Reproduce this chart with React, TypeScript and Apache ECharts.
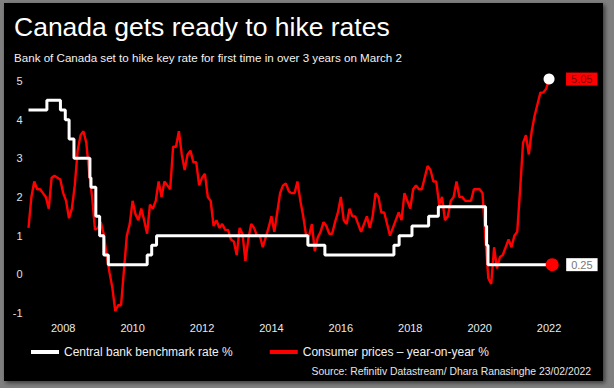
import React, { useEffect, useRef } from "react";
import * as echarts from "echarts";

const TITLE = "Canada gets ready to hike rates";
const SUBTITLE = "Bank of Canada set to hike key rate for first time in over 3 years on March 2";
const SOURCE = "Source: Refinitiv Datastream/ Dhara Ranasinghe 23/02/2022";
const RATE_NAME = "Central bank benchmark rate %";
const CPI_NAME = "Consumer prices \u2013 year-on-year %";

const START_YEAR = 2007;
// Monthly CPI y/y %, Jan 2007 .. Jan 2022
const cpi2007 = [1.2, 2.0, 2.4, 2.2, 2.2, 2.1, 2.0, 1.7, 2.5, 2.55, 2.5, 2.45];
const cpi2008 = [2.1, 1.9, 1.45, 1.7, 2.3, 3.2, 3.6, 3.7, 3.4, 2.6, 2.0, 1.15];
const cpi2009 = [1.2, 1.35, 1.05, 0.5, 0.05, -0.35, -0.95, -0.8, -0.8, 0.1, 1.0, 1.3];
const cpi2010 = [1.9, 1.55, 1.4, 1.7, 1.4, 1.05, 1.8, 1.7, 1.9, 2.4, 2.0, 2.4];
const cpi2011 = [2.3, 2.2, 3.3, 3.3, 3.7, 3.1, 2.7, 3.1, 3.2, 2.9, 2.9, 2.3];
const cpi2012 = [2.5, 2.6, 2.0, 1.9, 1.25, 1.4, 1.2, 1.3, 1.15, 1.15, 0.9, 0.85];
const cpi2013 = [0.5, 1.2, 1.05, 0.35, 0.9, 1.3, 1.2, 1.0, 1.0, 0.7, 0.95, 1.2];
const cpi2014 = [1.5, 1.1, 1.6, 2.1, 2.3, 2.35, 2.15, 2.1, 2.1, 2.4, 1.9, 1.5];
const cpi2015 = [1.0, 1.0, 1.3, 0.6, 0.95, 1.1, 1.35, 1.25, 1.05, 1.05, 1.35, 1.6];
const cpi2016 = [2.0, 1.4, 1.3, 1.7, 1.5, 1.5, 1.3, 1.1, 1.3, 1.5, 1.2, 1.5];
const cpi2017 = [2.1, 2.0, 1.6, 1.6, 1.3, 1.0, 1.2, 1.4, 1.6, 1.4, 2.1, 1.9];
const cpi2018 = [1.7, 2.2, 2.3, 2.2, 2.2, 2.5, 2.8, 2.7, 2.4, 2.4, 1.8, 2.0];
const cpi2019 = [1.4, 1.5, 1.9, 2.0, 2.4, 2.0, 2.0, 1.9, 1.9, 1.9, 2.2, 2.2];
const cpi2020 = [2.2, 2.1, 0.9, -0.1, -0.25, 0.7, 0.15, 0.45, 0.5, 0.7, 0.9, 0.7];
const cpi2021 = [1.0, 1.1, 2.2, 3.4, 3.6, 3.1, 3.7, 4.1, 4.4, 4.7, 4.7, 4.8];
const cpi2022 = [5.05];

const cpiMonthly = [
  ...cpi2007, ...cpi2008, ...cpi2009, ...cpi2010, ...cpi2011, ...cpi2012,
  ...cpi2013, ...cpi2014, ...cpi2015, ...cpi2016, ...cpi2017, ...cpi2018,
  ...cpi2019, ...cpi2020, ...cpi2021, ...cpi2022,
];

// Bank of Canada overnight rate: [decimal year of change, new rate]
const rateDates = [
  2007.0, 2007.53, 2007.92, 2008.06, 2008.17, 2008.31, 2008.77, 2008.8, 2008.94,
  2009.05, 2009.17, 2009.3, 2010.42, 2010.55, 2010.69, 2015.05, 2015.54, 2017.53,
  2017.68, 2018.05, 2018.53, 2018.81, 2020.17, 2020.2, 2020.24, 2022.09,
];
const rateValues = [
  4.25, 4.5, 4.25, 4.0, 3.5, 3.0, 2.5, 2.25, 1.5,
  1.0, 0.5, 0.25, 0.5, 0.75, 1.0, 0.75, 0.5, 0.75,
  1.0, 1.25, 1.5, 1.75, 1.25, 0.75, 0.25, 0.25,
];

const yTicks = { min: -1, max: 5, interval: 1 };
const xRange = { min: 2007, max: 2022.2 };

const SANS = "'Liberation Sans', Arial, sans-serif";

export default function App() {
  const ref = useRef<HTMLDivElement>(null);

  useEffect(() => {
    if (!ref.current) return;
    const chart = echarts.init(ref.current, undefined, { renderer: "svg" });

    const cpiData = cpiMonthly.map((v, i) => [START_YEAR + i / 12, v]);
    const rateData = rateDates.map((d, i) => [d, rateValues[i]]);
    const cpiLast = cpiData[cpiData.length - 1];
    const rateLast = rateData[rateData.length - 1];

    chart.setOption({
      animation: false,
      backgroundColor: "#7f7f7f",
      graphic: [
        {
          type: "rect",
          z: 0,
          silent: true,
          shape: { x: 4, y: 3, width: 599, height: 378 },
          style: {
            fill: "#000",
            shadowBlur: 4,
            shadowOffsetX: 2,
            shadowOffsetY: 2,
            shadowColor: "rgba(0,0,0,0.55)",
          },
        },
      ],
      title: [
        {
          text: TITLE,
          left: 14,
          top: 13,
          padding: 0,
          textStyle: { color: "#fff", fontSize: 26.5, fontWeight: "normal", fontFamily: SANS },
        },
        {
          text: SUBTITLE,
          left: 14,
          top: 51,
          padding: 0,
          textStyle: { color: "#f2f2f2", fontSize: 11.6, fontWeight: "normal", fontFamily: SANS },
        },
        {
          text: SOURCE,
          right: 23,
          top: 366,
          padding: 0,
          textStyle: { color: "#e6e6e6", fontSize: 10.4, fontWeight: "normal", fontFamily: SANS },
        },
      ],
      legend: {
        data: [RATE_NAME, CPI_NAME],
        left: 31,
        top: 346,
        padding: 0,
        icon: "rect",
        itemWidth: 28,
        itemHeight: 4,
        itemGap: 37,
        textStyle: { color: "#f0f0f0", fontSize: 12, fontFamily: SANS },
      },
      grid: { left: 28.5, right: 58, top: 81, bottom: 75, containLabel: false },
      xAxis: {
        type: "value",
        min: xRange.min,
        max: xRange.max,
        interval: 1,
        axisLine: { show: false },
        axisTick: { show: false },
        splitLine: { show: false },
        axisLabel: {
          color: "#eaeaea",
          fontSize: 11,
          fontFamily: SANS,
          margin: 9,
          showMaxLabel: false,
          formatter: (v: number) => {
            const r = Math.round(v);
            return Math.abs(v - r) < 1e-6 && r % 2 === 0 ? String(r) : "";
          },
        },
      },
      yAxis: {
        type: "value",
        min: yTicks.min,
        max: yTicks.max,
        interval: yTicks.interval,
        axisLine: { show: false },
        axisTick: { show: false },
        splitLine: { show: false },
        axisLabel: { color: "#e0e0e0", fontSize: 11, fontFamily: SANS, margin: 6 },
      },
      series: [
        {
          name: CPI_NAME,
          type: "line",
          data: cpiData,
          symbol: "none",
          clip: false,
          itemStyle: { color: "#ff0000" },
          lineStyle: { color: "#ff0000", width: 2.4 },
          z: 2,
        },
        {
          name: RATE_NAME,
          type: "line",
          data: rateData,
          step: "end",
          symbol: "none",
          clip: false,
          itemStyle: { color: "#ffffff" },
          lineStyle: { color: "#ffffff", width: 3 },
          z: 3,
        },
        {
          name: "cpiEnd",
          type: "scatter",
          data: [cpiLast],
          symbol: "circle",
          symbolSize: 11,
          clip: false,
          itemStyle: { color: "#ffffff", opacity: 1 },
          z: 4,
          label: {
            show: true,
            position: "right",
            distance: 11.5,
            formatter: (p: any) => p.value[1].toFixed(2),
            backgroundColor: "#ff0000",
            color: "#800000",
            fontSize: 11,
            lineHeight: 12,
            fontFamily: SANS,
            padding: [1, 5, 0, 5],
          },
        },
        {
          name: "rateEnd",
          type: "scatter",
          data: [rateLast],
          symbol: "circle",
          symbolSize: 13,
          clip: false,
          itemStyle: { color: "#ff0000", opacity: 1 },
          z: 4,
          label: {
            show: true,
            position: "right",
            distance: 7.5,
            formatter: (p: any) => p.value[1].toFixed(2),
            backgroundColor: "#ffffff",
            color: "#777777",
            fontSize: 11,
            lineHeight: 12,
            fontFamily: SANS,
            padding: [1, 5, 0, 5],
          },
        },
      ],
    });

    return () => chart.dispose();
  }, []);

  return (
    <div
      ref={ref}
      style={{ position: "absolute", left: 0, top: 0, width: 614, height: 388 }}
    />
  );
}
